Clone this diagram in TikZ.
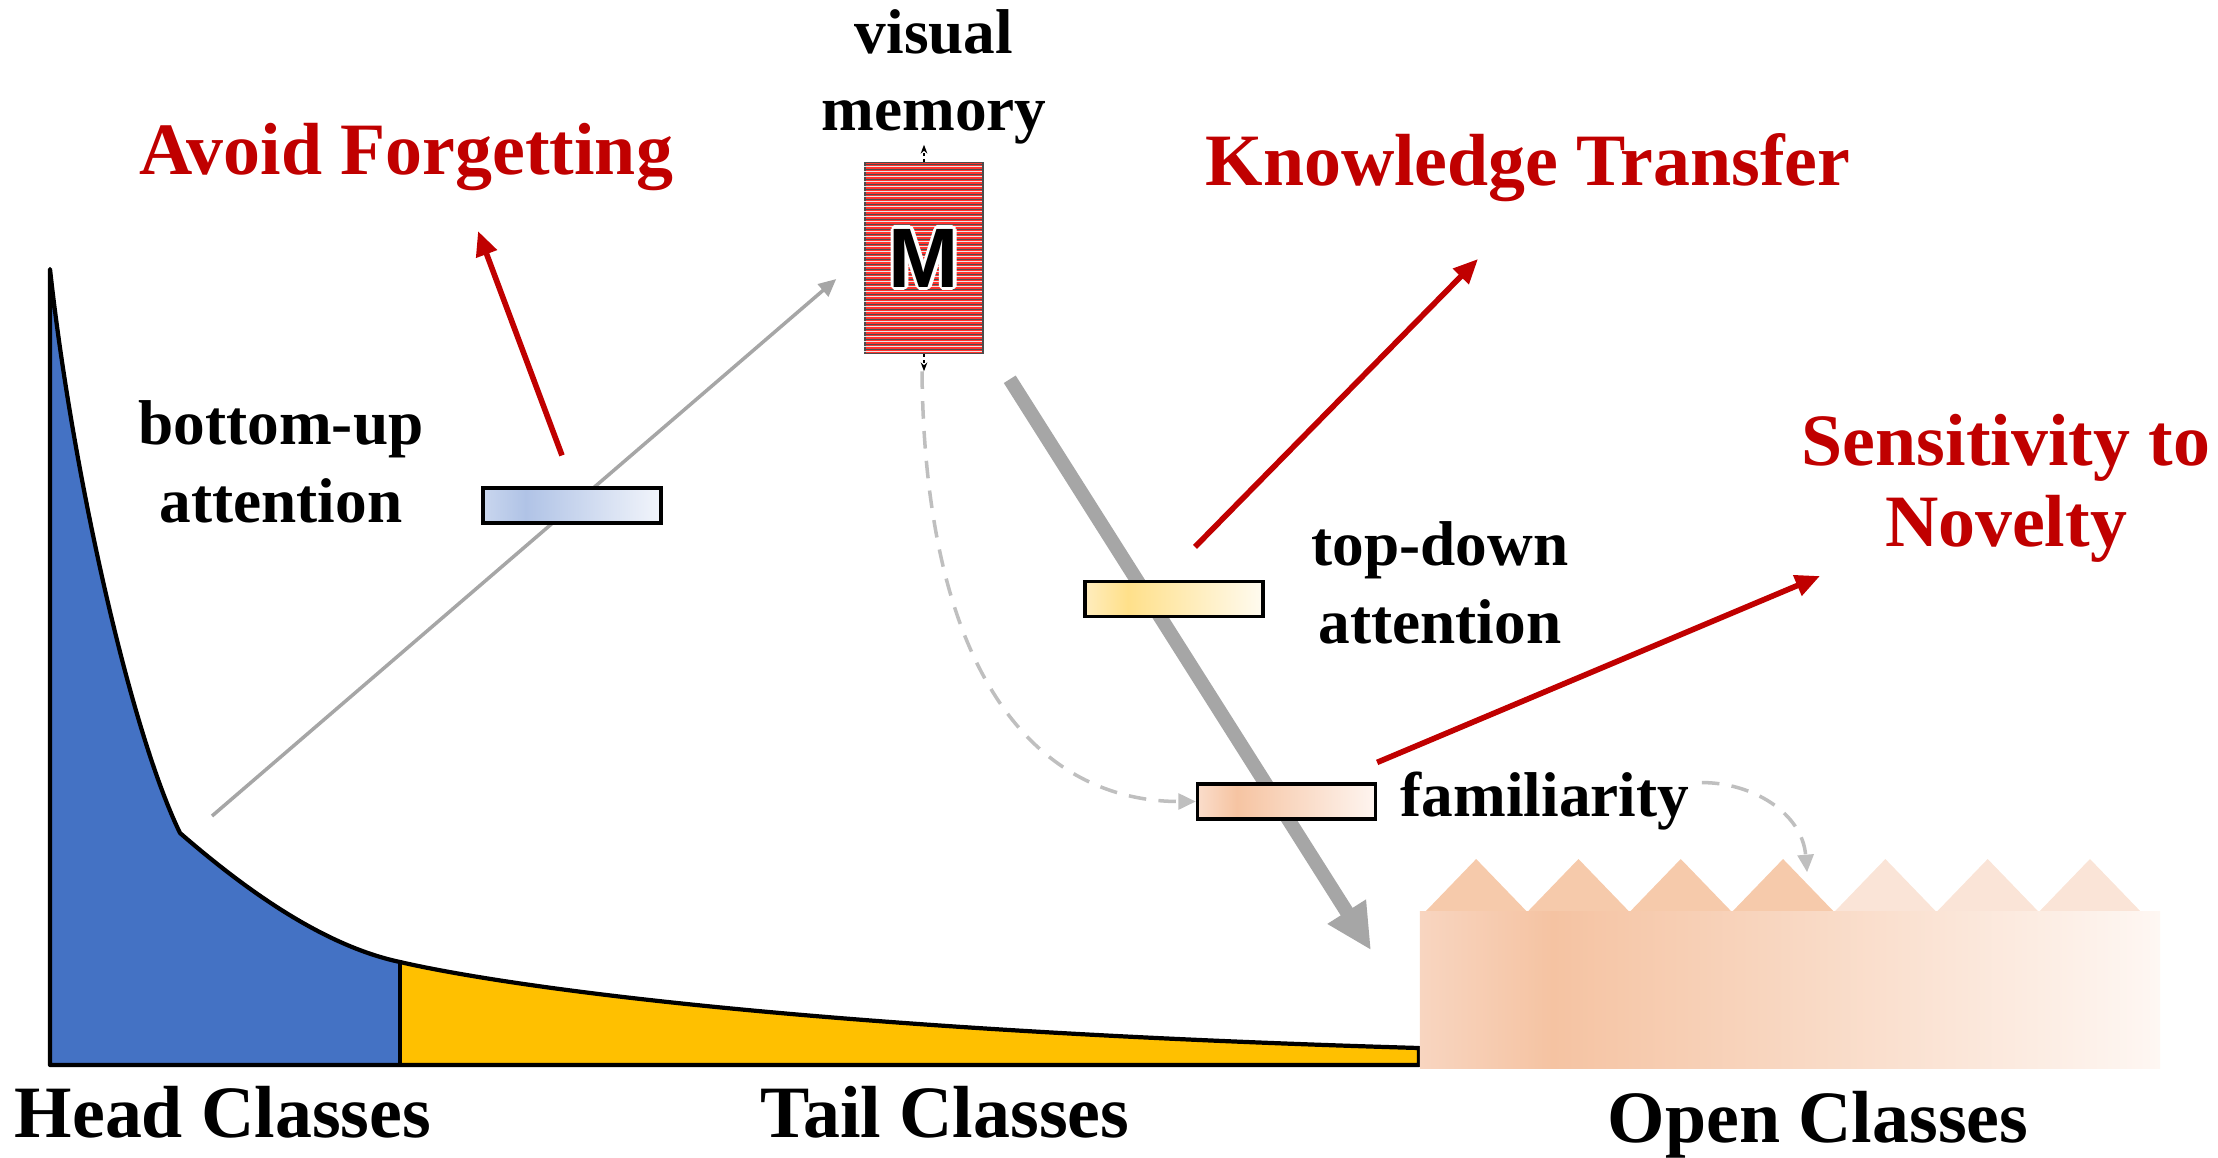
\documentclass[tikz,border=0pt]{standalone}
\usepackage{fontspec}
\setmainfont{Liberation Serif}
\newfontfamily\memfont{Liberation Sans}
\usepackage{xcolor}
\usepackage{tikz}
\usetikzlibrary{arrows.meta,calc}
\definecolor{goalred}{RGB}{192,0,0}
\definecolor{headblue}{RGB}{68,114,196}
\definecolor{tailgold}{RGB}{255,192,0}
\definecolor{flowgray}{RGB}{166,166,166}
\definecolor{dashgray}{RGB}{191,191,191}
\definecolor{memred}{RGB}{255,50,45}
\definecolor{peachA}{RGB}{246,202,171}
\definecolor{peachB}{RGB}{250,228,215}
\definecolor{buA}{RGB}{201,214,238}
\definecolor{buB}{RGB}{176,195,230}
\definecolor{buC}{RGB}{242,245,251}
\definecolor{tdA}{RGB}{255,237,190}
\definecolor{tdB}{RGB}{255,224,138}
\definecolor{tdC}{RGB}{255,251,240}
\definecolor{faA}{RGB}{250,221,203}
\definecolor{faB}{RGB}{246,196,162}
\definecolor{faC}{RGB}{254,245,240}
\definecolor{ocA}{RGB}{248,213,192}
\definecolor{ocB}{RGB}{245,195,162}
\definecolor{ocC}{RGB}{254,247,243}
\pgfdeclarehorizontalshading{bushade}{100bp}{color(0bp)=(buA); color(25bp)=(buA); color(37bp)=(buB); color(75bp)=(buC); color(100bp)=(buC)}
\pgfdeclarehorizontalshading{tdshade}{100bp}{color(0bp)=(tdA); color(25bp)=(tdA); color(37bp)=(tdB); color(75bp)=(tdC); color(100bp)=(tdC)}
\pgfdeclarehorizontalshading{fashade}{100bp}{color(0bp)=(faA); color(25bp)=(faA); color(36bp)=(faB); color(75bp)=(faC); color(100bp)=(faC)}
\pgfdeclarehorizontalshading{ocshade}{100bp}{color(0bp)=(ocA); color(25bp)=(ocA); color(34bp)=(ocB); color(75bp)=(ocC); color(100bp)=(ocC)}

\begin{document}
\begin{tikzpicture}[
  x=0.01cm, y=-0.01cm,
  lbl/.style={font=\fontsize{18}{22}\selectfont\bfseries, align=center, inner sep=0pt},
  goal/.style={font=\fontsize{21}{23}\selectfont\bfseries, text=goalred, align=center, inner sep=0pt},
  cls/.style={font=\fontsize{21}{23}\selectfont\bfseries, inner sep=0pt},
  attn/.style={draw, line width=0.9pt, shade, minimum width=1.78cm, minimum height=0.35cm, inner sep=0pt},
  redarr/.style={-{Triangle[length=7pt,width=6pt]}, goalred, line width=1.6pt},
  thinarr/.style={-{Triangle[length=5pt,width=4.5pt]}, flowgray, line width=1pt},
  flowarr/.style={-{Triangle[length=13pt,width=12pt]}, flowgray, line width=4pt},
  dasharr/.style={-{Triangle[length=5pt,width=4.5pt]}, dashgray, line width=1pt, dash pattern=on 5pt off 3.5pt},
]
\useasboundingbox (0,0) rectangle (2218,1157);

% long-tailed distribution
\fill[headblue] (50,1065) -- (50,269) .. controls (72,470) and (130,730) .. (180,833)
  .. controls (240,885) and (320,945) .. (400,962) -- (400,1065) -- cycle;
\fill[tailgold] (400,1065) -- (400,962) .. controls (500,985) and (800,1030) .. (1419,1048) -- (1419,1065) -- cycle;
\draw[line width=1.2pt, line join=round] (50,269) -- (50,1065) -- (1419,1065) -- (1419,1048)
  .. controls (800,1030) and (500,985) .. (400,962) .. controls (320,945) and (240,885) .. (180,833)
  .. controls (130,730) and (72,470) .. (50,269) -- cycle;
\draw[line width=1.2pt] (400,962) -- (400,1065);

% open classes
\foreach \i/\c in {0/peachA,1/peachA,2/peachA,3/peachA,4/peachB,5/peachB,6/peachB}
  \fill[\c] (1425+102.3*\i,912) -- (1476.15+102.3*\i,859) -- (1527.3+102.3*\i,912) -- cycle;
\node[shade, shading=ocshade, minimum width=7.40cm, minimum height=1.56cm, inner sep=0pt] (opn) at (1790,990) {};

% visual memory
\node[draw=black!70, line width=0.4pt, fill=memred, minimum width=1.18cm, minimum height=1.91cm, inner sep=0pt] (mem) at (924,258) {};
\foreach \k in {0,...,37} {
  \draw[black!70, line width=0.38pt] ($(mem.north west)+(0,3+5*\k)$) -- ++(118,0);
  \draw[white!80!gray, line width=0.15pt] ($(mem.north west)+(0,4.4+5*\k)$) -- ++(118,0);
}
\foreach \a in {0,30,...,330}
  \node[text=white, font=\memfont\bfseries\fontsize{24}{24}\selectfont, inner sep=0pt] (mo\a) at ($(mem.center)+(\a:3.2)$) {M};
\node[font=\memfont\bfseries\fontsize{24}{24}\selectfont, inner sep=0pt] (mlet) at (mem.center) {M};
\draw[densely dotted, line width=0.7pt, -{Stealth[length=2.5pt]}] (mem.north) -- ++(0,-17);
\draw[densely dotted, line width=0.7pt, -{Stealth[length=2.5pt]}] (mem.south) -- ++(0,17);
\node[lbl] (vis) at (934,77) {visual\\memory};

% labels
\node[lbl] (bul) at (281,462) {bottom-up\\attention};
\node[lbl] (tdl) at (1440,583) {top-down\\attention};
\node[lbl, anchor=base] (fam) at (1545,816) {familiarity};
\node[goal, anchor=base] (avoid) at (406,174) {Avoid Forgetting};
\node[goal, anchor=base] (know) at (1528,185) {Knowledge Transfer};
\node[goal] (sens) at (2006,488) {Sensitivity to\\Novelty};
\node[cls, anchor=base] (head) at (223,1137) {Head Classes};
\node[cls, anchor=base] (tail) at (945,1137) {Tail Classes};
\node[cls, anchor=base] (open) at (1818,1142) {Open Classes};

% memory read / write
\coordinate (hc) at (212,816);
\draw[thinarr] (hc) -- ($(mem.west)+(-28,21)$);
\draw[flowarr] ($(mem.south east)+(26,25)$) -- ($(opn.north west)+(-48,39)$);

% attention bars
\node[attn, shading=bushade] (bu) at (572,505.5) {};
\node[attn, shading=tdshade] (td) at (1174,599) {};
\node[attn, shading=fashade] (fa) at (1286.5,801.5) {};

% goals
\draw[redarr] ($(bu.north)+(-10,-31)$) -- ($(avoid.base)+(72,57)$);
\draw[redarr] ($(td.north)+(21,-33)$) -- ($(know.base)+(-50,74)$);
\draw[redarr] ($(fa.north east)+(0,-20)$) -- ($(sens.center)+(-186,88)$);

% familiarity
\draw[dasharr] ($(mem.south)+(-2,17)$) .. controls +(3,325) and +(-145,0) .. (fa.west);
\draw[dasharr] ($(fam.east)+(12,-18)$) .. controls +(50,0) and +(-5,-60) .. ($(opn.north west)+(388,-39)$);
\end{tikzpicture}
\end{document}
